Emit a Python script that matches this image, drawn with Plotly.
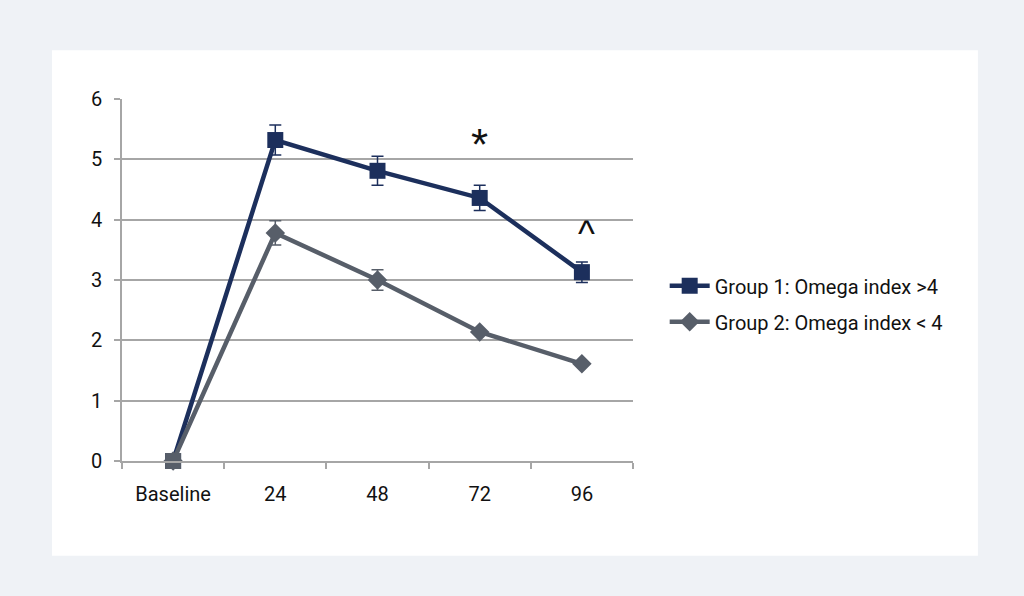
import plotly.graph_objects as go

categories = ["Baseline", "24", "48", "72", "96"]
g1_name = "Group 1: Omega index >4"
g2_name = "Group 2: Omega index < 4"
g1_values = [0, 5.32, 4.81, 4.36, 3.13]
g1_err = [0, 0.25, 0.24, 0.21, 0.17]
g2_values = [0, 3.78, 3.0, 2.14, 1.61]
g2_err = [0, 0.2, 0.17, 0.03, 0.02]
annot_text = ["*", "^"]
annot_cat = ["72", "96"]
annot_y = [5.25, 3.82]

navy = "#1c2f5c"
grey = "#575e69"

fig = go.Figure()
fig.add_trace(go.Scatter(
    x=categories, y=g1_values, name=g1_name, mode="lines+markers",
    legendgroup="g1", cliponaxis=False,
    line=dict(color=navy, width=4.5),
    marker=dict(symbol="square", size=16, color=navy, line=dict(width=0)),
    error_y=dict(type="data", array=g1_err, color=navy, thickness=1.5, width=6),
))
fig.add_trace(go.Scatter(
    x=categories, y=g2_values, name=g2_name, mode="lines+markers",
    legendgroup="g2", cliponaxis=False,
    line=dict(color=grey, width=4.5),
    marker=dict(symbol="diamond", size=15, color=grey, line=dict(width=0)),
    error_y=dict(type="data", array=g2_err, color=grey, thickness=1.5, width=6),
))
# baseline point of group 2 is drawn as a square in the reference
fig.add_trace(go.Scatter(
    x=categories[:1], y=g2_values[:1], mode="markers", showlegend=False,
    legendgroup="g2", cliponaxis=False,
    marker=dict(symbol="square", size=16, color=grey, line=dict(width=0)),
    hoverinfo="skip",
))

fig.add_annotation(x=categories.index(annot_cat[0]), y=annot_y[0], text=annot_text[0],
                   showarrow=False,
                   font=dict(size=44, family="Liberation Sans", color="#111111"))
fig.add_annotation(x=categories.index(annot_cat[1]), y=annot_y[1], text=annot_text[1],
                   showarrow=False, xshift=5, yshift=-3,
                   font=dict(size=36, family="Liberation Sans", color="#111111"))

fig.add_shape(type="rect", xref="paper", yref="paper",
              x0=-0.137, x1=1.675, y0=-0.262, y1=1.135,
              fillcolor="white", line=dict(width=0), layer="below")

fig.update_layout(
    width=1024, height=596,
    margin=dict(l=122, r=391, t=99, b=135),
    paper_bgcolor="#eff2f6", plot_bgcolor="white",
    font=dict(family="Roboto", size=20, color="#111111"),
    showlegend=True,
    legend=dict(x=1.062, y=0.538, xanchor="left", yanchor="top",
                bgcolor="rgba(0,0,0,0)", font=dict(size=20),
                tracegroupgap=7, itemwidth=40),
    xaxis=dict(type="category", range=[-0.5, 4.5], showgrid=False,
               showline=True, linecolor="#a6a6a6", linewidth=1.5,
               ticks="outside", tickson="boundaries", ticklen=6,
               tickcolor="#a6a6a6", tickwidth=1.5, tickfont=dict(size=20),
               ticklabelstandoff=14),
    yaxis=dict(range=[0, 6], dtick=1, showgrid=True, gridcolor="#a6a6a6",
               gridwidth=1.5, showline=True, linecolor="#a6a6a6", linewidth=1.5,
               ticks="outside", ticklen=6, tickcolor="#a6a6a6", tickwidth=1.5,
               zeroline=False, tickfont=dict(size=20), ticklabelstandoff=8),
)

fig.write_html(
    "out.html",
    config={"displayModeBar": False},
    post_script="document.body.style.margin='0';document.body.style.background='#eff2f6';",
)
